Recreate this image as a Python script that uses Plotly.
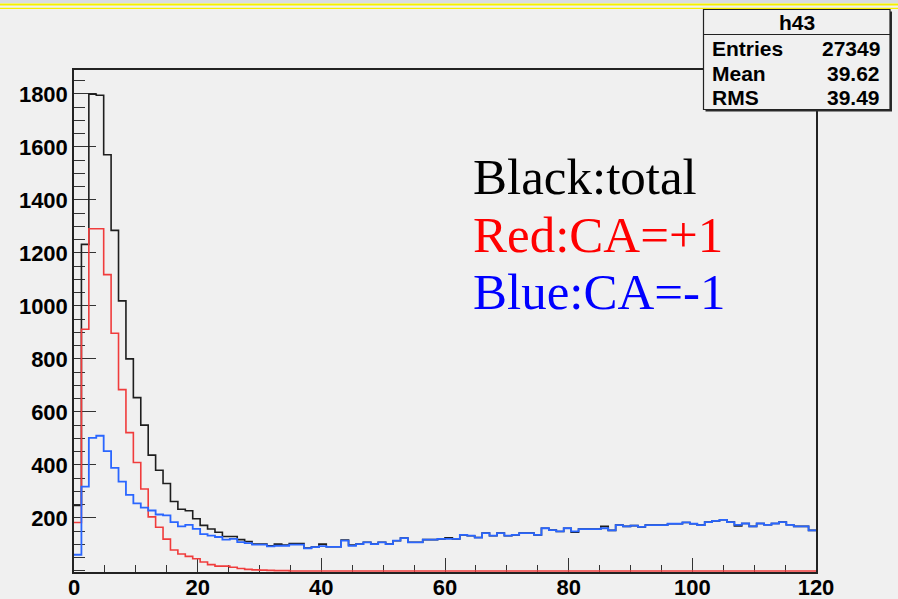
import numpy as np
import plotly.graph_objects as go

# ---------------- data ----------------
BIN_LO, BIN_HI, NBINS = 0.0, 120.0, 100

total_counts = [247, 1232, 1799, 1795, 1570, 1285, 1019, 800, 654, 550,
                437, 380, 330, 262, 233, 227, 197, 172, 158, 146,
                130, 130, 118, 111, 101, 101, 95, 101, 98, 103,
                103, 86, 90, 101, 91, 91, 117, 98, 101, 108,
                101, 108, 101, 114, 124, 108, 108, 118, 118, 121,
                125, 121, 136, 133, 126, 143, 133, 143, 133, 136,
                143, 143, 136, 161, 154, 149, 161, 146, 158, 158,
                158, 168, 153, 173, 168, 171, 166, 173, 173, 173,
                178, 178, 183, 178, 173, 184, 189, 193, 184, 170,
                179, 168, 179, 174, 179, 184, 174, 168, 168, 153]

red_counts = [183, 912, 1291, 1291, 1118, 897, 684, 522, 409, 309,
              204, 165, 120, 79, 64, 55, 46, 34, 24, 18,
              18, 14, 9, 6, 4, 3, 2, 1, 1, 0] + [0] * 70

blue_counts = [61, 318, 502, 510, 452, 389, 337, 287, 255, 239,
               228, 213, 210, 184, 168, 174, 159, 139, 133, 128,
               118, 121, 109, 105, 99, 99, 93, 95, 95, 99,
               99, 85, 90, 94, 91, 91, 114, 95, 101, 108,
               101, 108, 101, 114, 124, 108, 108, 118, 118, 121,
               121, 121, 136, 133, 126, 143, 133, 143, 133, 136,
               143, 143, 136, 161, 154, 149, 161, 149, 158, 158,
               158, 161, 153, 173, 168, 171, 166, 173, 173, 173,
               178, 178, 183, 178, 173, 184, 189, 193, 184, 174,
               179, 168, 179, 174, 179, 184, 174, 168, 168, 153]

x_tick_vals = [0, 20, 40, 60, 80, 100, 120]
y_tick_vals = [200, 400, 600, 800, 1000, 1200, 1400, 1600, 1800]

stats_title = "h43"
stats_labels = ["Entries", "Mean", "RMS"]
stats_values = ["27349", "39.62", "39.49"]

legend_lines = ["Black:total", "Red:CA=+1", "Blue:CA=-1"]
legend_colors = ["#000000", "#ff0000", "#0000ff"]

assert len(total_counts) == NBINS and len(red_counts) == NBINS and len(blue_counts) == NBINS

# ---------------- figure ----------------
W, H = 898, 599
L, R, T, B = 74, 82, 70, 27
PW, PH = W - L - R, H - T - B

def px(xp):
    return (xp - L) / PW

def py(yp):
    return (H - B - yp) / PH

edges = np.linspace(BIN_LO, BIN_HI, NBINS + 1)

fig = go.Figure()
for vals, col, w in [(total_counts, "#1e1e1e", 1.6),
                     (red_counts, "#f03c3c", 1.6),
                     (blue_counts, "#2a66ff", 1.8)]:
    fig.add_trace(go.Scatter(x=edges, y=list(vals) + [vals[-1]], mode="lines",
                             line=dict(shape="hv", color=col, width=w),
                             hoverinfo="skip"))

tickfont = dict(family="Liberation Sans", size=22, color="black", weight="bold")

fig.update_layout(
    width=W, height=H, margin=dict(l=L, r=R, t=T, b=B, pad=0, autoexpand=False),
    paper_bgcolor="#f0f0f0", plot_bgcolor="#f0f0f0", showlegend=False,
    xaxis=dict(range=[BIN_LO, BIN_HI], tickmode="array", tickvals=x_tick_vals,
               ticks="inside", ticklen=14, tickwidth=1.3, tickcolor="#333",
               minor=dict(dtick=5, tick0=0, ticks="inside", ticklen=7,
                          tickwidth=1.3, tickcolor="#333", showgrid=False),
               showgrid=False, zeroline=False, showline=True, linecolor="#222",
               linewidth=1.5, mirror=True, tickfont=tickfont, layer="below traces",
               automargin=False, ticklabelstandoff=-5),
    yaxis=dict(range=[-4, 1890], tickmode="array", tickvals=y_tick_vals,
               ticks="inside", ticklen=22, tickwidth=1.3, tickcolor="#333",
               minor=dict(dtick=50, tick0=0, ticks="inside", ticklen=11,
                          tickwidth=1.3, tickcolor="#333", showgrid=False),
               showgrid=False, zeroline=False, showline=True, linecolor="#222",
               linewidth=1.5, mirror=True, tickfont=tickfont, layer="below traces",
               automargin=False),
)

# top band of the slide
fig.add_shape(type="rect", xref="paper", yref="paper", x0=px(0), x1=px(W), y0=py(0), y1=py(3),
              fillcolor="#d8dce2", line_width=0, layer="below")
fig.add_shape(type="line", xref="paper", yref="paper", x0=px(0), x1=px(W), y0=py(4.5), y1=py(4.5),
              line=dict(color="#f5f000", width=2))
fig.add_shape(type="line", xref="paper", yref="paper", x0=px(0), x1=px(W), y0=py(8.3), y1=py(8.3),
              line=dict(color="#f5f000", width=1.2))

# stats box (shadow, body, separator)
bx0, bx1, by0, by1 = 703.5, 890, 9.5, 109.5
fig.add_shape(type="rect", xref="paper", yref="paper", x0=px(bx0 + 2), x1=px(bx1 + 2),
              y0=py(by1 + 2), y1=py(by0 + 2), fillcolor="#2a2a2a", line_width=0)
fig.add_shape(type="rect", xref="paper", yref="paper", x0=px(bx0), x1=px(bx1),
              y0=py(by1), y1=py(by0), fillcolor="#f0f0f0", line=dict(color="#222", width=1.2))
fig.add_shape(type="line", xref="paper", yref="paper", x0=px(bx0), x1=px(bx1),
              y0=py(34.5), y1=py(34.5), line=dict(color="#222", width=1.2))

statfont = dict(family="Liberation Sans", size=21, color="black", weight="bold")
fig.add_annotation(xref="paper", yref="paper", x=px((bx0 + bx1) / 2), y=py(22),
                   text=stats_title, showarrow=False, font=statfont,
                   xanchor="center", yanchor="middle")
for i, (lab, val) in enumerate(zip(stats_labels, stats_values)):
    yy = py(48.5 + i * 24.7)
    fig.add_annotation(xref="paper", yref="paper", x=px(710), y=yy, text=lab,
                       showarrow=False, font=statfont, xanchor="left", yanchor="middle")
    fig.add_annotation(xref="paper", yref="paper", x=px(882), y=yy, text=val,
                       showarrow=False, font=statfont, xanchor="right", yanchor="middle")

# legend text
for i, (txt, col) in enumerate(zip(legend_lines, legend_colors)):
    fig.add_annotation(xref="paper", yref="paper", x=px(471), y=py(177 + i * 57.5),
                       text=txt, showarrow=False, xanchor="left", yanchor="middle",
                       font=dict(family="Liberation Serif", size=51, color=col))

fig.write_html("out.html")
